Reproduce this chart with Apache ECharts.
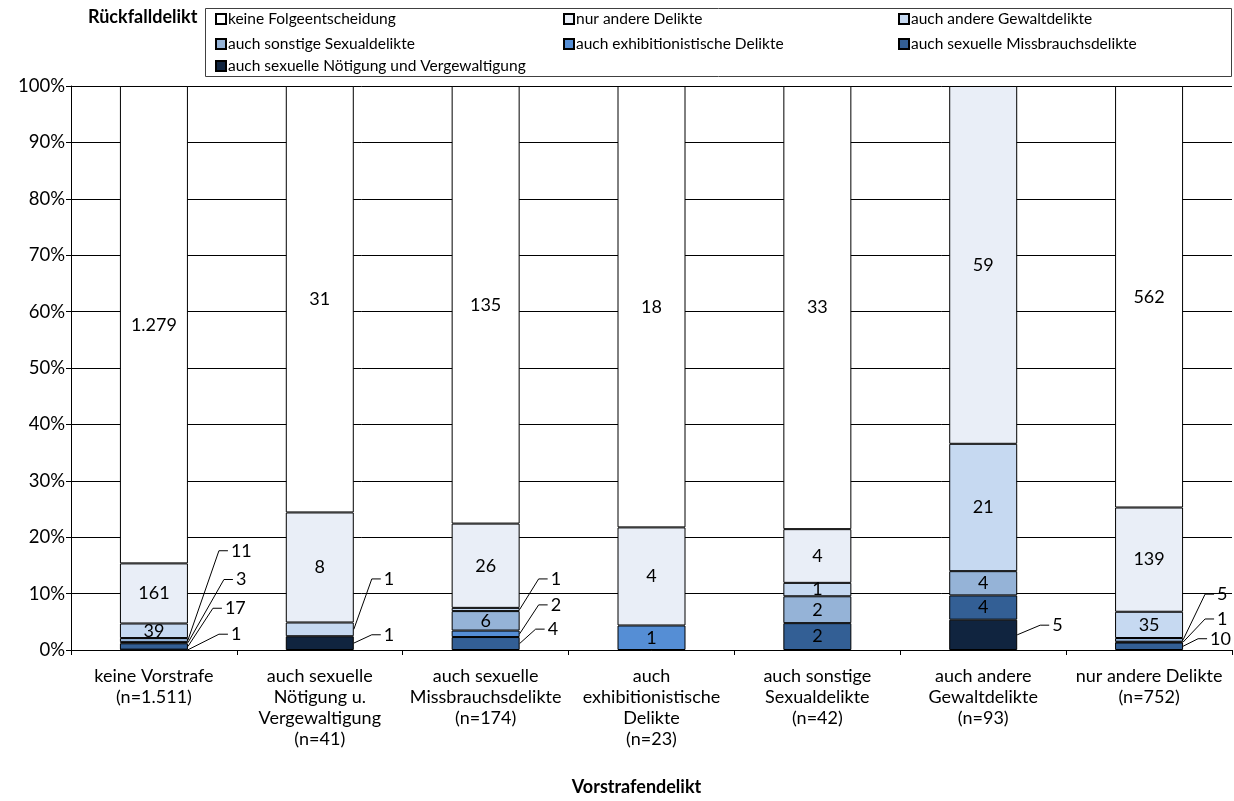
<!DOCTYPE html>
<html>
<head>
<meta charset="utf-8">
<script src="https://cdn.jsdelivr.net/npm/echarts@6/dist/echarts.min.js"></script>
<style>
html,body{margin:0;padding:0;background:#fff;}
#chart{width:1234px;height:801px;}
</style>
</head>
<body>
<div id="chart"></div>
<script>
// ---------- DATA ----------
const categories = [
  'keine Vorstrafe\n(n=1.511)',
  'auch sexuelle\nNötigung u.\nVergewaltigung\n(n=41)',
  'auch sexuelle\nMissbrauchsdelikte\n(n=174)',
  'auch\nexhibitionistische\nDelikte\n(n=23)',
  'auch sonstige\nSexualdelikte\n(n=42)',
  'auch andere\nGewaltdelikte\n(n=93)',
  'nur andere Delikte\n(n=752)'
];
// counts per category (stack order bottom -> top)
const noetigung  = [1, 1, 0, 0, 0, 5, 0];
const missbrauch = [17, 0, 4, 0, 2, 4, 10];
const exhib      = [3, 0, 2, 1, 0, 0, 1];
const sonstige   = [11, 0, 6, 0, 2, 4, 5];
const gewalt     = [39, 1, 1, 0, 1, 21, 35];
const nurAndere  = [161, 8, 26, 4, 4, 59, 139];
const keine      = [1279, 31, 135, 18, 33, 0, 562];

const seriesNames = {
  noetigung: 'auch sexuelle Nötigung und Vergewaltigung',
  missbrauch: 'auch sexuelle Missbrauchsdelikte',
  exhib: 'auch exhibitionistische Delikte',
  sonstige: 'auch sonstige Sexualdelikte',
  gewalt: 'auch andere Gewaltdelikte',
  nurAndere: 'nur andere Delikte',
  keine: 'keine Folgeentscheidung'
};
const yTicks = [0,10,20,30,40,50,60,70,80,90,100];

// labels drawn outside the bar with leader lines: [category, series, label level (%), knee offset px]
const outsideLabels = [
  [0, 'sonstige', 17.6, 31], [0, 'exhib', 12.5, 36], [0, 'missbrauch', 7.4, 25], [0, 'noetigung', 2.8, 31],
  [1, 'gewalt', 12.6, 18], [1, 'noetigung', 2.7, 18],
  [2, 'gewalt', 12.6, 19], [2, 'exhib', 8.0, 19], [2, 'missbrauch', 3.7, 16],
  [5, 'noetigung', 4.4, 23],
  [6, 'sonstige', 9.9, 22], [6, 'exhib', 5.5, 22], [6, 'missbrauch', 2.0, 15]
];

// ---------- BUILD ----------
const FONT = 'Lato';
const stackKeys = ['noetigung','missbrauch','exhib','sonstige','gewalt','nurAndere','keine'];
const stackData = {noetigung, missbrauch, exhib, sonstige, gewalt, nurAndere, keine};
const colors = {
  noetigung: '#10243f', missbrauch: '#335f95', exhib: '#558ed5',
  sonstige: '#95b3d7', gewalt: '#c6d9f1', nurAndere: '#e9eef7', keine: '#ffffff'
};
const totals = categories.map((c, i) => stackKeys.reduce((s, k) => s + stackData[k][i], 0));
const isOutside = (ci, key) => outsideLabels.some(o => o[0] === ci && o[1] === key);
const fmt = v => String(v).replace(/\B(?=(\d{3})+(?!\d))/g, '.');
const BAR_W = 68;

const series = stackKeys.map(key => ({
  name: seriesNames[key],
  type: 'bar',
  stack: 'total',
  barWidth: BAR_W,
  itemStyle: {color: colors[key], borderColor: '#000', borderWidth: 1},
  emphasis: {disabled: true},
  label: {
    show: true, position: 'inside', color: '#000', fontFamily: FONT, fontSize: 18,
    formatter: p => (p.data.count > 0 && !isOutside(p.dataIndex, key)) ? fmt(p.data.count) : ''
  },
  data: stackData[key].map((v, i) => v > 0 ? ({value: v / totals[i] * 100, count: v}) : ({value: null, count: 0}))
}));

const legendOrder = ['keine','nurAndere','gewalt','sonstige','exhib','missbrauch','noetigung'];
const legendCols = [215, 563, 898];
const legendRows = [11, 36, 58];
const legends = legendOrder.map((k, i) => ({
  data: [seriesNames[k]],
  left: legendCols[i % 3], top: legendRows[Math.floor(i / 3)],
  padding: 0,
  itemWidth: 10, itemHeight: 10, itemGap: 0,
  icon: 'rect', selectedMode: false,
  textStyle: {fontFamily: FONT, fontSize: 15.5, color: '#000', padding: [0, 0, 0, -3]}
}));

const chart = echarts.init(document.getElementById('chart'), null, {renderer: 'canvas'});
const baseGraphic = [
  {id: 'legbox', type: 'rect', shape: {x: 205.5, y: 8.5, width: 1026, height: 68},
   style: {fill: 'none', stroke: '#404040', lineWidth: 1}, z: 1},
  {id: 'legtitle', type: 'text', left: 88, top: 8,
   style: {text: 'Rückfalldelikt', font: 'bold 18px ' + FONT, fill: '#000'}}
];
chart.setOption({
  animation: false,
  backgroundColor: '#fff',
  legend: legends,
  grid: {left: 71, right: 2, top: 86, bottom: 140, containLabel: false},
  xAxis: {
    type: 'category', data: categories,
    axisLine: {lineStyle: {color: '#000', width: 1}},
    axisTick: {show: true, length: 5, lineStyle: {color: '#000'}},
    axisLabel: {color: '#000', fontFamily: FONT, fontSize: 18, lineHeight: 21, margin: 16, interval: 0},
    name: 'Vorstrafendelikt', nameLocation: 'middle', nameGap: 128,
    nameTextStyle: {fontFamily: FONT, fontSize: 18, fontWeight: 'bold', color: '#000', padding: [0, 30, 0, 0]}
  },
  yAxis: {
    type: 'value', min: yTicks[0], max: yTicks[yTicks.length - 1], interval: yTicks[1] - yTicks[0],
    axisLine: {show: true, lineStyle: {color: '#000'}},
    axisTick: {show: true, length: 5, lineStyle: {color: '#000'}},
    axisLabel: {color: '#000', fontFamily: FONT, fontSize: 18.5, formatter: '{value}%', margin: 6},
    splitLine: {show: true, lineStyle: {color: '#000', width: 1}}
  },
  graphic: baseGraphic,
  series: series
});

// leader-line labels placed via the chart's own scales
const extra = [];
outsideLabels.forEach((o, n) => {
  const [ci, key, lvl, knee] = o;
  const idx = stackKeys.indexOf(key);
  let below = 0;
  for (let j = 0; j < idx; j++) below += stackData[stackKeys[j]][ci];
  const mid = (below + stackData[key][ci] / 2) / totals[ci] * 100;
  const a = chart.convertToPixel({gridIndex: 0}, [ci, mid]);
  const l = chart.convertToPixel({gridIndex: 0}, [ci, lvl]);
  const xr = a[0] + BAR_W / 2;
  const xk = xr + knee;
  extra.push({
    id: 'll' + n, type: 'polyline', z: 10,
    shape: {points: [[xr, a[1]], [xk, l[1]], [xk + 9, l[1]]]},
    style: {stroke: '#000', lineWidth: 1, fill: 'none'}
  });
  extra.push({
    id: 'lt' + n, type: 'text', z: 10, x: xk + 12, y: l[1],
    style: {text: fmt(stackData[key][ci]), font: '18px ' + FONT, fill: '#000', textVerticalAlign: 'middle', textAlign: 'left'}
  });
});
chart.setOption({graphic: baseGraphic.concat(extra)});
</script>
</body>
</html>
